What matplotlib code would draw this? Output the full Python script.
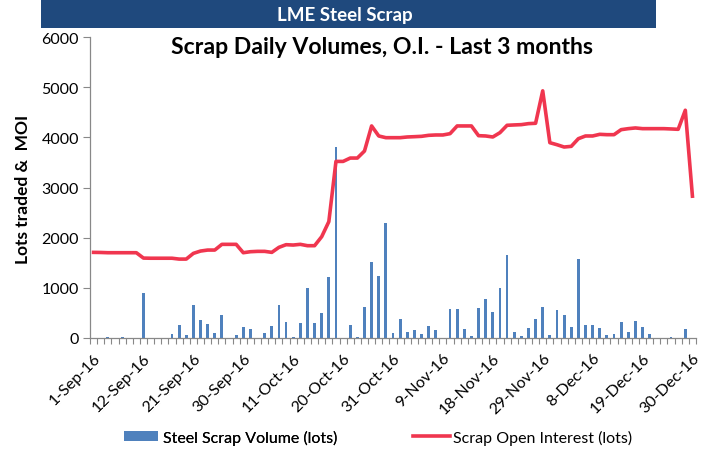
import matplotlib
matplotlib.use("Agg")
import matplotlib.pyplot as plt
import numpy as np
from matplotlib.patches import Rectangle
from matplotlib.lines import Line2D

plt.rcParams['font.family'] = ['Lato', 'DejaVu Sans']

volume = [0, 0, 10, 0, 10, 0, 0, 890, 0, 0, 0, 80, 265, 60, 655, 360, 285, 105, 465, 0,
          55, 215, 175, 0, 95, 235, 665, 325, 20, 295, 995, 300, 495, 1215, 3800, 5, 260, 10, 615, 1505,
          1245, 2285, 100, 375, 115, 155, 75, 240, 155, 0, 580, 580, 175, 35, 600, 785, 515, 1000, 1645, 125,
          45, 205, 375, 625, 55, 555, 455, 215, 1565, 260, 260, 195, 60, 75, 315, 115, 335, 215, 75, 0,
          0, 25, 0, 175, 0]

open_interest = [1707, 1705, 1700, 1700, 1700, 1700, 1700, 1593, 1590, 1590, 1590, 1590, 1573, 1573, 1687, 1733, 1753, 1753, 1867, 1867,
                 1867, 1700, 1720, 1727, 1727, 1707, 1807, 1860, 1853, 1867, 1840, 1840, 2020, 2320, 3520, 3520, 3587, 3587, 3727, 4227,
                 4027, 3993, 3993, 3993, 4007, 4013, 4020, 4040, 4047, 4047, 4073, 4227, 4227, 4227, 4033, 4027, 4007, 4093, 4240, 4247,
                 4253, 4273, 4280, 4927, 3893, 3853, 3807, 3820, 3973, 4027, 4027, 4060, 4053, 4053, 4153, 4173, 4187, 4173, 4173, 4173,
                 4173, 4167, 4160, 4540, 2827]

tick_labels = ['1-Sep-16', '12-Sep-16', '21-Sep-16', '30-Sep-16', '11-Oct-16', '20-Oct-16', '31-Oct-16',
               '9-Nov-16', '18-Nov-16', '29-Nov-16', '8-Dec-16', '19-Dec-16', '30-Dec-16']

bar_color = '#4F81BD'
line_color = '#F0364F'
W, H = 713, 452

fig = plt.figure(figsize=(7.13, 4.52), dpi=100)
ax = fig.add_axes([90/W, 1-339/H, (696-90)/W, (339-38)/H])

x = np.arange(len(volume))
ax.bar(x, volume, width=0.4, color=bar_color, zorder=2)
ax.plot(x, open_interest, color=line_color, lw=2.6, zorder=3, solid_joinstyle='round')

ax.set_xlim(-0.5, len(volume) - 0.5)
ax.set_ylim(0, 6000)
ax.set_yticks(np.arange(0, 6001, 1000))
ax.tick_params(axis='y', labelsize=11.5, length=5, color='#888888', width=0.8, pad=3)

major = np.arange(0, len(volume), 7)
ax.set_xticks(major)
ax.set_xticklabels(tick_labels, rotation=45, ha='right', rotation_mode='anchor', fontsize=11.5)
ax.set_xticks(np.arange(-0.5, len(volume), 1), minor=True)
ax.tick_params(axis='x', which='major', length=0, pad=9)
ax.tick_params(axis='x', which='minor', length=4, color='#888888', width=0.8)

for s in ['top', 'right']:
    ax.spines[s].set_visible(False)
for s in ['left', 'bottom']:
    ax.spines[s].set_color('#888888')
    ax.spines[s].set_linewidth(0.9)

fig.text(23/W, 1-189/H, 'Lots traded &  MOI', rotation=90, fontsize=12.5, fontweight='bold',
         ha='center', va='center')

# banner
fig.patches.append(Rectangle((41/W, 1-29/H), (656-41)/W, 29/H, transform=fig.transFigure,
                             facecolor='#1F497D', edgecolor='none'))
fig.text(345/W, 1-15/H, 'LME Steel Scrap', color='white', fontsize=13.5, fontweight='bold',
         ha='center', va='center')
fig.text(382/W, 1-47/H, 'Scrap Daily Volumes, O.I. - Last 3 months', fontsize=16.6, fontweight='bold',
         ha='center', va='center')

fs = 11.5
leg1 = fig.legend([Rectangle((0, 0), 1, 1, facecolor=bar_color, edgecolor='none')],
                  ['Steel Scrap Volume (lots)'], loc='center left', bbox_to_anchor=(124/W, 1-438/H),
                  frameon=False, fontsize=fs, handlelength=2.15, handleheight=0.65, handletextpad=0.3,
                  borderpad=0, borderaxespad=0)
leg2 = fig.legend([Line2D([0], [0], color=line_color, lw=2.6)],
                  ['Scrap Open Interest (lots)'], loc='center left', bbox_to_anchor=(413/W, 1-438/H),
                  frameon=False, fontsize=fs, handlelength=2.3, handletextpad=0.2,
                  borderpad=0, borderaxespad=0)
fig.add_artist(leg1)

fig.savefig('out.png', dpi=100)
